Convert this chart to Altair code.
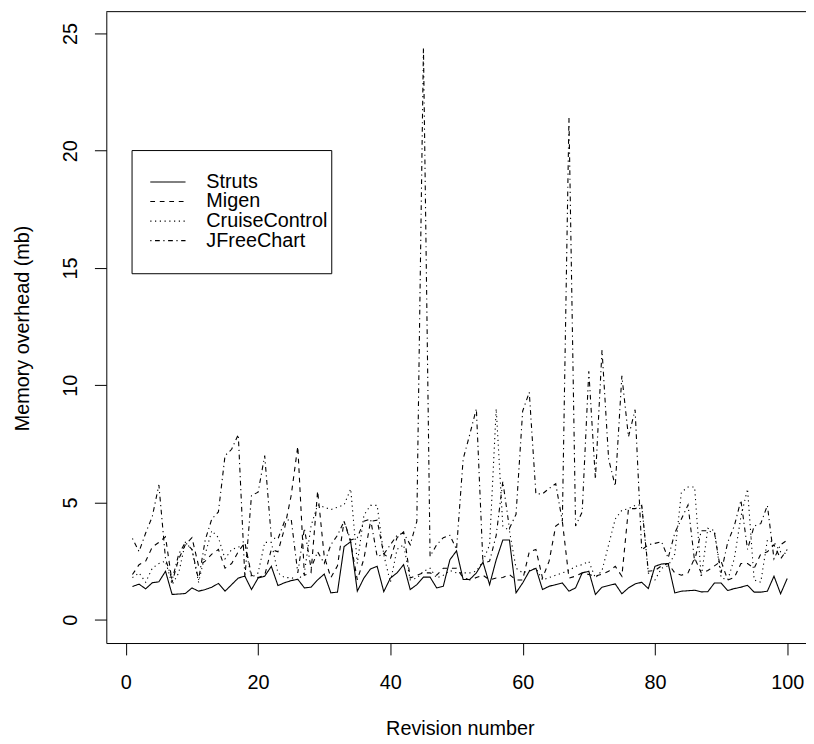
import altair as alt
import pandas as pd

revision = list(range(1, 101))

struts = [1.42, 1.52, 1.32, 1.58, 1.62, 2.07, 1.08, 1.10, 1.12, 1.36,
          1.22, 1.29, 1.39, 1.55, 1.22, 1.50, 1.78, 1.86, 1.29, 1.78,
          1.86, 2.28, 1.46, 1.58, 1.67, 1.73, 1.36, 1.39, 1.70, 1.95,
          1.15, 1.18, 3.12, 3.33, 1.22, 1.78, 2.17, 2.28, 1.20, 1.78,
          2.00, 2.35, 1.29, 1.50, 1.82, 1.82, 1.36, 1.43, 2.56, 2.94,
          1.72, 1.72, 2.00, 2.46, 1.50, 2.56, 3.40, 3.40, 1.15, 1.57,
          2.07, 2.20, 1.29, 1.43, 1.50, 1.57, 1.22, 1.36, 2.00, 2.07,
          1.08, 1.39, 1.46, 1.53, 1.11, 1.36, 1.53, 1.60, 1.33, 2.28,
          2.38, 2.40, 1.15, 1.22, 1.24, 1.26, 1.19, 1.20, 1.57, 1.57,
          1.25, 1.33, 1.39, 1.47, 1.18, 1.18, 1.22, 1.86, 1.11, 1.76]

migen = [1.93, 2.35, 2.50, 3.10, 3.30, 3.54, 1.60, 2.60, 3.20, 3.50,
         2.30, 2.50, 2.80, 3.00, 2.20, 2.40, 2.90, 3.30, 1.90, 1.80,
         1.90, 3.00, 2.90, 3.90, 5.30, 7.40, 1.90, 2.00, 5.50, 2.70,
         1.80, 2.30, 4.20, 3.30, 1.70, 2.60, 4.20, 4.25, 2.80, 2.60,
         3.50, 3.75, 1.78, 1.90, 2.00, 2.00, 1.90, 2.20, 2.20, 2.20,
         1.80, 1.70, 1.80, 1.90, 1.70, 1.78, 1.80, 1.93, 1.70, 1.70,
         2.90, 3.00, 1.78, 2.50, 4.00, 4.20, 1.78, 1.86, 2.00, 1.93,
         1.86, 1.95, 2.07, 2.28, 1.86, 4.74, 4.74, 4.88, 2.07, 2.10,
         2.30, 2.40, 2.00, 1.90, 2.00, 2.63, 2.00, 2.10, 2.30, 2.50,
         1.70, 1.80, 2.40, 2.40, 2.20, 2.80, 2.90, 3.20, 2.60, 3.00]

cruise = [1.80, 2.00, 1.60, 2.20, 2.40, 2.50, 1.50, 2.00, 3.30, 3.00,
          1.60, 2.80, 3.80, 3.50, 2.60, 3.00, 3.10, 3.20, 1.80, 2.00,
          3.30, 3.30, 2.00, 1.80, 1.80, 1.70, 2.00, 4.00, 4.90, 4.80,
          4.70, 4.80, 4.90, 5.58, 2.40, 4.46, 4.88, 4.88, 2.77, 1.60,
          3.00, 3.20, 1.70, 1.78, 2.07, 2.20, 1.78, 1.90, 2.10, 2.00,
          2.00, 2.00, 2.07, 2.50, 3.20, 9.00, 4.00, 3.80, 2.20, 2.00,
          2.10, 2.20, 1.70, 1.80, 1.90, 2.00, 2.10, 2.28, 2.35, 2.49,
          1.78, 2.10, 3.20, 4.30, 4.67, 4.74, 4.88, 4.90, 2.00, 1.70,
          2.20, 2.30, 2.80, 5.44, 5.66, 5.66, 1.80, 3.90, 3.80, 1.80,
          1.70, 2.60, 4.40, 5.58, 1.70, 1.60, 3.40, 3.30, 2.90, 2.80]

jfree = [3.47, 2.91, 3.70, 4.40, 5.75, 2.60, 1.70, 2.80, 3.30, 3.00,
         1.70, 3.40, 4.30, 4.60, 7.00, 7.27, 7.90, 1.80, 5.30, 5.44,
         7.00, 3.50, 3.45, 4.20, 4.30, 2.00, 3.90, 2.20, 2.90, 2.40,
         3.20, 3.60, 4.20, 3.40, 3.50, 4.20, 4.30, 2.70, 2.80, 3.20,
         3.60, 3.70, 3.20, 4.20, 24.40, 2.70, 3.20, 3.50, 3.60, 3.00,
         6.85, 7.90, 9.00, 2.40, 2.50, 3.60, 5.90, 3.90, 4.50, 8.90,
         9.70, 5.37, 5.37, 5.60, 5.80, 4.20, 21.40, 4.00, 4.60, 10.60,
         6.00, 11.50, 6.85, 5.70, 10.40, 7.80, 8.96, 2.98, 3.20, 3.26,
         3.33, 2.63, 3.70, 4.30, 4.90, 2.50, 3.80, 3.80, 3.70, 2.00,
         3.30, 4.00, 5.10, 3.00, 4.00, 4.10, 4.88, 2.60, 3.20, 3.40]

series_names = ["Struts", "Migen", "CruiseControl", "JFreeChart"]
series_values = [struts, migen, cruise, jfree]
dash_styles = [[1, 0], [4.8, 4.8], [1.2, 3.6], [1.2, 3.6, 4.8, 3.6]]
x_ticks = [0, 20, 40, 60, 80, 100]
y_ticks = [0, 5, 10, 15, 20, 25]

rows = []
for name, vals in zip(series_names, series_values):
    for r, v in zip(revision, vals):
        rows.append({"revision": r, "overhead": v, "project": name})
df = pd.DataFrame(rows)

legend_df = pd.DataFrame({"project": series_names,
                          "row": list(range(len(series_names)))})

W = 706.7
H = 637.7
FONT = "Liberation Sans"
LW = 1.1

x_scale = alt.Scale(domain=[-2.95, 102.84], nice=False, zero=False)
y_scale = alt.Scale(domain=[-0.99, 25.93], nice=False, zero=False)
dash_scale = alt.Scale(domain=series_names, range=dash_styles)
legend_row_scale = alt.Scale(domain=[0, 3], range=[172, 231.3], nice=False,
                             zero=False)

lines = alt.Chart(df).mark_line(color="black", strokeWidth=LW).encode(
    x=alt.X("revision:Q", scale=x_scale,
            axis=alt.Axis(values=x_ticks, title="Revision number",
                          labelPadding=18, labelAngle=0, labelFlush=False,
                          titleX=357.1, titleY=86, titleAlign="center",
                          titleBaseline="middle")),
    y=alt.Y("overhead:Q", scale=y_scale,
            axis=alt.Axis(values=y_ticks, title="Memory overhead (mb)",
                          labelAngle=270, labelAlign="center",
                          labelBaseline="bottom", labelPadding=14,
                          labelFlush=False,
                          titleAngle=270, titleX=-84.3, titleY=319.5,
                          titleAlign="center", titleBaseline="middle")),
    strokeDash=alt.StrokeDash("project:N", scale=dash_scale, legend=None),
)

frame_top = alt.Chart(pd.DataFrame({"edge": [0]})).mark_rule(
    color="black", strokeWidth=1).encode(
    x=alt.value(0), x2=alt.value(W), y=alt.value(0))

legend_box = alt.Chart(pd.DataFrame({"edge": [0]})).mark_rect(
    fill="white", stroke="black", strokeWidth=1).encode(
    x=alt.value(26), x2=alt.value(227.7),
    y=alt.value(140.3), y2=alt.value(264.7))

legend_keys = alt.Chart(legend_df).mark_rule(
    color="black", strokeWidth=LW).encode(
    x=alt.value(44.4), x2=alt.value(80),
    y=alt.Y("row:Q", scale=legend_row_scale, axis=None),
    strokeDash=alt.StrokeDash("project:N", scale=dash_scale, legend=None),
)

legend_labels = alt.Chart(legend_df).mark_text(
    align="left", baseline="middle", font=FONT, fontSize=20,
    color="black").encode(
    x=alt.value(101),
    y=alt.Y("row:Q", scale=legend_row_scale, axis=None),
    text="project:N",
)

legend = alt.layer(legend_box, legend_keys, legend_labels)

chart = alt.layer(lines, frame_top, legend).resolve_scale(
    y="independent"
).properties(
    width=W, height=H,
    autosize=alt.AutoSizeParams(type="none"),
    padding={"left": 99.3, "top": 0, "right": 0, "bottom": 98.3},
).configure_view(stroke=None).configure_axis(
    grid=False, domainColor="black", domainWidth=1, tickColor="black",
    tickWidth=1, tickSize=12, labelFont=FONT, labelFontSize=20,
    labelColor="black", titleFont=FONT, titleFontSize=20,
    titleFontWeight="normal", titleColor="black", labelOverlap=False,
)

chart.save("out.html", embed_options={"renderer": "svg", "actions": False})
